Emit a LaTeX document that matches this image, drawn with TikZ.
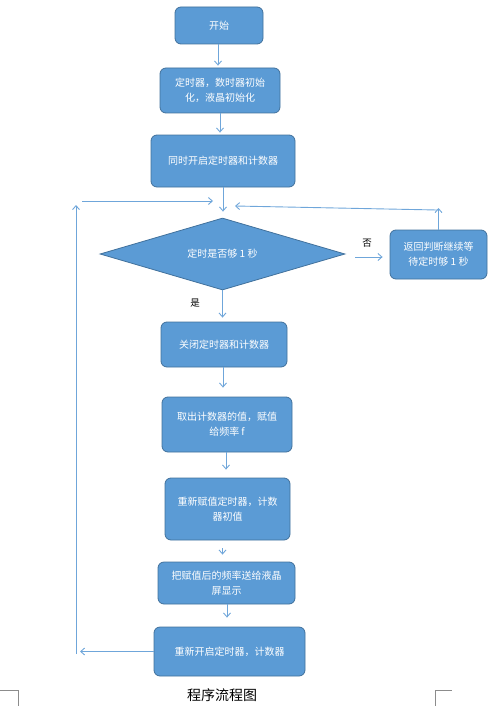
\documentclass[tikz,border=0pt]{standalone}
\usepackage{fontspec}
\newfontfamily\cjk{Noto Sans CJK SC}
\usetikzlibrary{shapes.geometric,arrows.meta,calc}
\definecolor{boxfill}{HTML}{5B9BD5}
\definecolor{boxline}{HTML}{41719C}
\definecolor{arrcol}{HTML}{6FA6DA}
\begin{document}
\begin{tikzpicture}[x=1pt,y=-1pt,
  box/.style={draw=boxline,fill=boxfill,line width=0.8pt,rounded corners=6pt,
    text=white,font=\cjk\fontsize{10}{15}\selectfont,align=center,inner sep=0pt},
  dec/.style={diamond,draw=boxline,fill=boxfill,line width=0.8pt,text=white,
    font=\cjk\fontsize{10}{15}\selectfont,inner sep=0pt,shape aspect=3.4},
  arr/.style={draw=arrcol,line width=0.9pt,-{Straight Barb[length=4pt,width=7pt]}},
  lbl/.style={font=\cjk\fontsize{9.5}{12}\selectfont,text=black},
  corner/.style={draw=black!45,line width=0.6pt}]
\useasboundingbox (0,0) rectangle (494,706);

\node[box,minimum width=88pt,minimum height=37pt] (b1) at (219,25.5) {开始};
\node[box,minimum width=120pt,minimum height=45pt] (b2) at (220,90.5) {定时器，数时器初始\\化，液晶初始化};
\node[box,minimum width=144pt,minimum height=52pt] (b3) at (223,161) {同时开启定时器和计数器};
\node[dec,minimum width=245pt,minimum height=72pt] (d) at (222.5,254) {定时是否够 1 秒};
\node[box,minimum width=97pt,minimum height=49pt] (r) at (438.5,254.5) {返回判断继续等\\待定时够 1 秒};
\node[box,minimum width=126pt,minimum height=45pt] (b6) at (224,344.5) {关闭定时器和计数器};
\node[box,minimum width=130pt,minimum height=55pt] (b7) at (227,424.5) {取出计数器的值，赋值\\给频率 f};
\node[box,minimum width=125pt,minimum height=62pt] (b8) at (227.5,509) {重新赋值定时器，计数\\器初值};
\node[box,minimum width=137pt,minimum height=42pt] (b9) at (226.5,583) {把赋值后的频率送给液晶\\屏显示};
\node[box,minimum width=151pt,minimum height=49pt] (b10) at (229.5,651.5) {重新开启定时器，计数器};

\node[lbl] (no) at (367,243) {否};
\node[lbl] (yes) at (195,303) {是};
\node[font=\cjk\fontsize{14}{16}\selectfont] (cap) at (222,695) {程序流程图};

% main flow
\draw[arr,shorten >=2pt] ($(b1.south)+(-1,0)$) -- ($(b1.south |- b2.north)+(-1,0)$);
\draw[arr,shorten >=2pt] (b2.south) -- (b2.south |- b3.north);
\draw[arr,shorten >=6pt] (b3.south) -- (b3.south |- d.north);
\draw[arr,shorten >=4pt] (d.south) -- (d.south |- b6.north);
\draw[arr,shorten >=9pt] ($(b6.south)+(-1,0)$) -- ($(b6.south |- b7.north)+(-1,0)$);
\draw[arr,shorten >=8pt] ($(b7.south)+(-1,0)$) -- ($(b7.south |- b8.north)+(-1,0)$);
\draw[arr,shorten <=8pt,shorten >=7pt] ($(b8.south)+(-5,0)$) -- ($(b8.south |- b9.north)+(-5,0)$);
\draw[arr,shorten >=9pt] ($(b9.south)+(0.5,0)$) -- ($(b9.south |- b10.north)+(0.5,0)$);

% no branch
\draw[arr,shorten <=10pt,shorten >=7pt] ($(d.east)+(0,3)$) -- ($(d.east -| r.west)+(0,3)$);

% return loop right
\coordinate (rt) at (438.5,208);
\coordinate (rs) at (437,210);
\coordinate (re) at (235,206);
\draw[arr] (r.north) -- (rt);
\draw[arr] (rs) -- (re);

% return loop left
\coordinate (la) at (80,651.5);
\coordinate (lb) at (76,654);
\coordinate (lc) at (76,205);
\coordinate (ld) at (82,201);
\coordinate (le) at (213,201);
\draw[arr] (b10.west) -- (la);
\draw[arr] (lb) -- (lc);
\draw[arr] (ld) -- (le);

% corner marks
\draw[corner] (0,690) -- (18,690) -- (18,706);
\draw[corner] (435,706) -- (435,690) -- (452,690);
\end{tikzpicture}
\end{document}
